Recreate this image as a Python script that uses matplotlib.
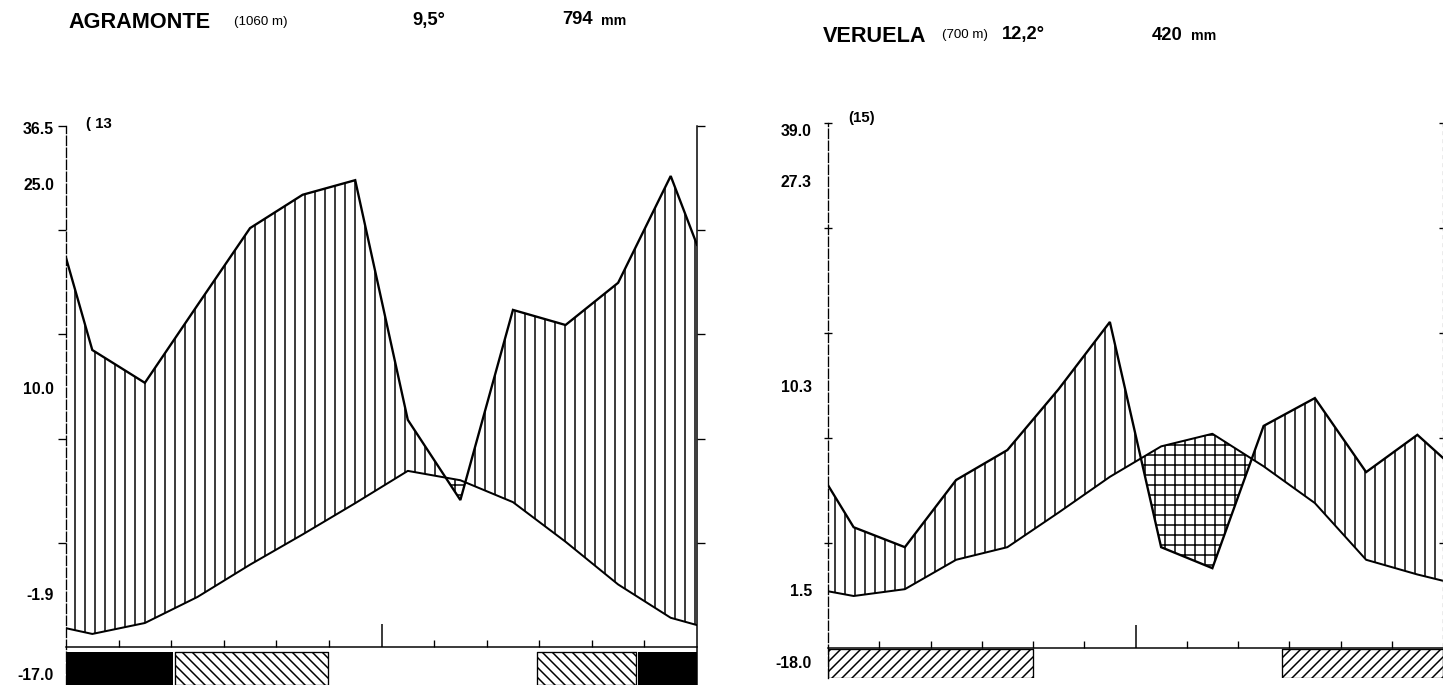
import numpy as np
import matplotlib.pyplot as plt

plt.rcParams['font.family'] = ['Liberation Sans', 'DejaVu Sans']
plt.rcParams['hatch.linewidth'] = 0.9

W, H = 1443, 685
DPI = 120

# month centres (Jan..Dec) on a 0..12 axis
months = np.arange(12) + 0.5

# --- Agramonte (1060 m) ---
agr_temp = [1.25, 2.3, 4.8, 7.9, 10.8, 13.8, 16.9, 16.0, 13.9, 10.1, 6.0, 2.8]
agr_prec = [57.0, 50.7, 65.6, 80.4, 86.8, 89.6, 43.6, 28.2, 64.7, 61.8, 69.9, 90.4]
agr_temp_ends = [1.8, 2.1]
agr_prec_ends = [74.7, 77.2]
agr_frost_sure = [(0.0, 2.03), (10.87, 12.0)]
agr_frost_prob = [(2.07, 4.98), (8.95, 10.84)]
agr_labels = ['36.5', '25.0', '10.0', '-1.9', '-17.0']

# --- Veruela (700 m) ---
ver_temp = [4.95, 5.6, 8.4, 9.6, 12.9, 16.3, 19.2, 20.4, 17.3, 13.8, 8.4, 7.0]
ver_prec = [23.0, 19.2, 32.0, 37.7, 49.3, 62.1, 19.2, 15.2, 42.3, 47.6, 33.5, 40.6]
ver_temp_ends = [5.4, 6.4]
ver_prec_ends = [31.0, 36.2]
ver_frost_sure = []
ver_frost_prob = [(0.0, 4.0), (8.85, 12.0)]
ver_labels = ['39.0', '27.3', '10.3', '1.5', '-18.0']


def px(x, y):
    return x / W, 1 - y / H


def draw(ax, temp, prec, temp_ends, prec_ends, sure, prob, prob_hatch, band, ylo):
    x = np.concatenate([[0], months, [12]])
    t = np.array([temp_ends[0]] + temp + [temp_ends[1]])
    p = np.array([prec_ends[0]] + prec + [prec_ends[1]]) / 2.0  # 2 mm = 1 degree

    ax.fill_between(x, t, p, where=p >= t, interpolate=True, facecolor='none',
                    edgecolor='black', hatch='||', linewidth=0)
    ax.fill_between(x, t, p, where=p <= t, interpolate=True, facecolor='none',
                    edgecolor='black', hatch='++', linewidth=0)
    ax.plot(x, p, color='black', lw=1.4, solid_joinstyle='miter')
    ax.plot(x, t, color='black', lw=1.2)

    # frost band under the axis
    if sure:
        ax.broken_barh([(s, e - s) for s, e in sure], band,
                       facecolors='black', edgecolor='none')
    ax.broken_barh([(s, e - s) for s, e in prob], band, facecolors='white',
                   edgecolor='black', hatch=prob_hatch, linewidth=0.8)

    ax.set_xlim(0, 12)
    ax.set_ylim(ylo, 50)
    ax.spines['top'].set_visible(False)
    ax.spines['bottom'].set_position(('data', 0))
    ax.spines['bottom'].set_linewidth(0.9)
    ax.spines['left'].set_linewidth(0.8)
    ax.spines['left'].set_linestyle((0, (7, 2)))
    ax.set_yticks([10, 20, 30, 40, 50])
    ax.set_xticks([6])
    ax.set_xticks([m for m in range(1, 12) if m != 6], minor=True)
    ax.tick_params(axis='y', left=True, right=True, direction='out', length=5,
                   width=0.8, labelleft=False)
    ax.tick_params(axis='x', which='major', direction='in', length=14, width=0.9,
                   labelbottom=False)
    ax.tick_params(axis='x', which='minor', direction='in', length=4, width=0.8)


fig = plt.figure(figsize=(W / DPI, H / DPI), dpi=DPI)

ax1 = fig.add_axes([66 / W, 0, 631 / W, (H - 126) / H])
draw(ax1, agr_temp, agr_prec, agr_temp_ends, agr_prec_ends,
     agr_frost_sure, agr_frost_prob, '\\\\\\\\', (-3.65, 3.2), -3.65)
ax1.spines['right'].set_linewidth(0.9)

ax2 = fig.add_axes([828 / W, 7 / H, 615 / W, (H - 123 - 7) / H])
draw(ax2, ver_temp, ver_prec, ver_temp_ends, ver_prec_ends,
     ver_frost_sure, ver_frost_prob, '////', (-2.86, 2.76), -2.86)
ax2.spines['right'].set_color('0.55')
ax2.spines['right'].set_linestyle((0, (2, 4)))
ax2.tick_params(axis='y', direction='inout')

# station headers
big = dict(fontsize=13, fontweight='bold', va='center', ha='left')
mid = dict(fontsize=11, fontweight='bold', va='center', ha='left')
small = dict(fontsize=8, va='center', ha='left')
unit = dict(fontsize=8.5, fontweight='bold', va='center', ha='left')

fig.text(*px(68, 22), 'AGRAMONTE', **big)
fig.text(*px(234, 22), '(1060 m)', **small)
fig.text(*px(412, 21), '9,5°', **mid)
fig.text(*px(562, 20), '794', **mid)
fig.text(*px(601, 21), 'mm', **unit)

fig.text(*px(823, 36), 'VERUELA', **big)
fig.text(*px(942, 35), '(700 m)', **small)
fig.text(*px(1002, 35), '12,2°', **mid)
fig.text(*px(1152, 35), '420', **mid)
fig.text(*px(1191, 36), 'mm', **unit)

# side values of each diagram
lab = dict(fontsize=9.5, fontweight='bold', va='center', ha='right')
for s, y in zip(agr_labels, [130, 185, 390, 596, 675]):
    fig.text(*px(54, y), s, **lab)
for s, y in zip(ver_labels, [132, 183, 388, 592, 664]):
    fig.text(*px(812, y), s, **lab)

fig.text(*px(86, 124), '( 13', fontsize=9, fontweight='bold', va='center', ha='left')
fig.text(*px(848, 118), '(15)', fontsize=9, fontweight='bold', va='center', ha='left')

fig.savefig('out.png', dpi=DPI, facecolor='white')
